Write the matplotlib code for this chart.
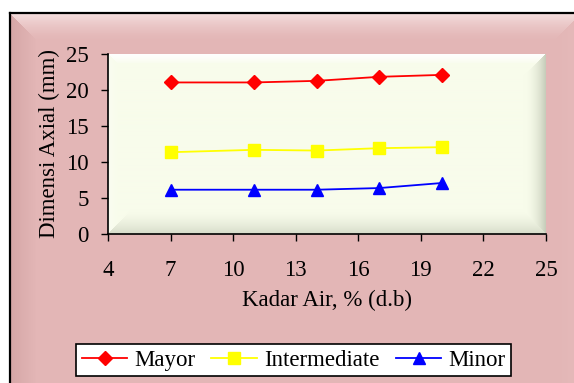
import numpy as np
import matplotlib
matplotlib.use("Agg")
import matplotlib.pyplot as plt

# ---------------- data ----------------
kadar_air = [7, 11, 14, 17, 20]
mayor = [21.05, 21.05, 21.27, 21.83, 22.1]
intermediate = [11.36, 11.69, 11.59, 11.92, 12.06]
minor = [6.15, 6.15, 6.15, 6.38, 7.08]

x_ticks = [4, 7, 10, 13, 16, 19, 22, 25]
y_ticks = [0, 5, 10, 15, 20, 25]

plt.rcParams["font.family"] = ["Liberation Serif", "DejaVu Serif"]
FS = 16.5

W, H = 574, 383
fig = plt.figure(figsize=(W / 100, H / 100), dpi=100)
fig.patch.set_facecolor("white")

# ---------------- outer pink frame with bevel ----------------
yy, xx = np.mgrid[0:H, 0:W].astype(float)
pink = np.array([227, 182, 182]) / 255
img = np.ones((H, W, 3))
fx0, fy0 = 10, 13
inside = (xx >= fx0) & (yy >= fy0)
img[inside] = pink
dt = yy - fy0
dl = xx - fx0
dr = W + 6 - xx
# top band lighter, left band darker
top = inside & (dt < 28) & (dt <= dl) & (dt <= dr)
w = (np.clip(1 - dt / 28, 0, 1) ** 1.5)[..., None]
img = np.where(top[..., None], img * (1 - 0.6 * w) + 0.6 * w * np.array([1, 0.97, 0.97]), img)
left = inside & (dl < 26) & (dl < dt)
w = np.clip(1 - dl / 26, 0, 1)[..., None]
img = np.where(left[..., None], img * (1 - 0.3 * w) + 0.3 * w * np.array([0.72, 0.52, 0.52]), img)
right = inside & (dr < 24) & (dr < dt)
w = np.clip(1 - dr / 24, 0, 1)[..., None]
img = np.where(right[..., None], img * (1 - 0.15 * w) + 0.15 * w * np.array([0.95, 0.82, 0.82]), img)

bg = fig.add_axes([0, 0, 1, 1], zorder=-10)
bg.imshow(img, extent=(0, 1, 0, 1), aspect="auto", interpolation="bilinear")
bg.plot([fx0 / W, fx0 / W], [0, 1 - fy0 / H], color="black", lw=1.6)
bg.plot([fx0 / W, 1], [1 - fy0 / H, 1 - fy0 / H], color="black", lw=1.6)
bg.set_xlim(0, 1)
bg.set_ylim(0, 1)
bg.axis("off")

# ---------------- plot area ----------------
ax_l, ax_r, ax_t, ax_b = 108, 546, 54, 234
ax = fig.add_axes([ax_l / W, 1 - ax_b / H, (ax_r - ax_l) / W, (ax_b - ax_t) / H])

# beveled plot-area background
pw, ph = ax_r - ax_l, ax_b - ax_t
py, px = np.mgrid[0:ph, 0:pw].astype(float)
base = np.array([248, 252, 235]) / 255
pimg = np.ones((ph, pw, 3)) * base
t_d, b_d, l_d, r_d = py, ph - 1 - py, px, pw - 1 - px
near = np.argmin(np.stack([t_d, b_d, l_d, r_d]), axis=0)
w = (np.clip(1 - t_d / 10, 0, 1) ** 0.7)[..., None]
pimg = np.where((near == 0)[..., None], pimg * (1 - w) + w * 1.0, pimg)
w = np.clip(1 - l_d / 10, 0, 1)[..., None] * 0.3
pimg = np.where((near == 2)[..., None], pimg * (1 - w) + w * 1.0, pimg)
w = (np.clip(1 - r_d / 22, 0, 1) ** 2 * 0.45)[..., None]
pimg = np.where((near == 3)[..., None], pimg * (1 - w) + w * np.array([0.55, 0.58, 0.5]), pimg)
w = (np.clip(1 - b_d / 24, 0, 1) ** 1.6 * 0.3)[..., None]
pimg = np.where((near == 1)[..., None], pimg * (1 - w) + w * np.array([0.55, 0.58, 0.5]), pimg)
ax.imshow(pimg, extent=(0, 1, 0, 1), transform=ax.transAxes, aspect="auto",
          interpolation="bilinear", zorder=0)

ax.plot(kadar_air, mayor, color="#FF0000", lw=1.3, marker="D", ms=7, label="Mayor", zorder=3)
ax.plot(kadar_air, intermediate, color="#FFFF00", lw=1.3, marker="s", ms=9, label="Intermediate", zorder=3)
ax.plot(kadar_air, minor, color="#0000FF", lw=1.3, marker="^", ms=9, label="Minor", zorder=3)

ax.set_xlim(4, 25)
ax.set_ylim(0, 25)
ax.set_xticks(x_ticks)
ax.set_yticks(y_ticks)
ax.tick_params(axis="both", direction="out", length=5, width=1, labelsize=FS, colors="black")
ax.tick_params(axis="y", pad=9)
ax.tick_params(axis="x", pad=14)
for s in ["top", "right"]:
    ax.spines[s].set_visible(False)
for s in ["left", "bottom"]:
    ax.spines[s].set_linewidth(1.2)
    ax.spines[s].set_zorder(4)

ax.set_xlabel("Kadar Air, % (d.b)", fontsize=FS, labelpad=6)
ax.set_ylabel("Dimensi Axial (mm)", fontsize=FS, labelpad=4)

leg = fig.legend(loc="center", bbox_to_anchor=(293.5 / W, 1 - 360 / H), ncol=3,
                 fontsize=FS, frameon=True, fancybox=False, edgecolor="black",
                 facecolor="white", framealpha=1, handlelength=2.0,
                 handletextpad=0.3, columnspacing=0.7, borderpad=0.25)
leg.get_frame().set_linewidth(1.2)

fig.savefig("out.png", dpi=100)
